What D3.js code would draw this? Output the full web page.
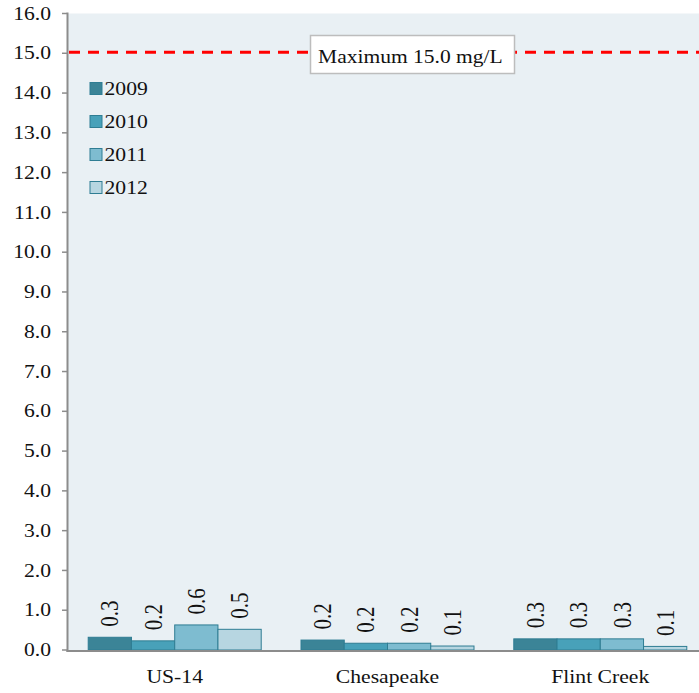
<!DOCTYPE html>
<html><head><meta charset="utf-8">
<script src="https://cdn.jsdelivr.net/npm/d3@7"></script>
<style>
html,body{margin:0;padding:0;background:#fff;}
svg{display:block;font-family:"Liberation Serif","Times New Roman",serif;}
</style></head>
<body><svg id="c" width="699" height="693"></svg>
<script>
const categories = ["US-14", "Chesapeake", "Flint Creek"];
const seriesNames = ["2009", "2010", "2011", "2012"];
const v2009 = [0.32, 0.25, 0.28];
const v2010 = [0.23, 0.17, 0.28];
const v2011 = [0.63, 0.17, 0.28];
const v2012 = [0.52, 0.10, 0.09];
const labels2009 = ["0.3", "0.2", "0.3"];
const labels2010 = ["0.2", "0.2", "0.3"];
const labels2011 = ["0.6", "0.2", "0.3"];
const labels2012 = ["0.5", "0.1", "0.1"];
const yTicks = [0,1,2,3,4,5,6,7,8,9,10,11,12,13,14,15,16];
const limitValue = 15.0;
const limitLabel = "Maximum 15.0 mg/L";

(function(){
const seriesValues = [v2009, v2010, v2011, v2012];
const seriesLabels = [labels2009, labels2010, labels2011, labels2012];
const colors = ["#3b8497", "#48a1b9", "#7ebcd0", "#b7d6e1"];
const strokeCol = "#2f7d93";
const S = 1.17; // horizontal text stretch

const svg = d3.select("#c");
const pL = 68, pR = 707, pT = 13.5, pB = 650;

const y = d3.scaleLinear().domain([0,16]).range([pB, pT]);
const x = d3.scaleBand().domain(categories).range([pL, pR]).paddingInner(0.187).paddingOuter(0.095);
const xs = d3.scaleBand().domain(seriesNames).range([0, x.bandwidth()]);

svg.append("rect").attr("x", pL).attr("y", pT).attr("width", 699 - pL).attr("height", pB - pT).attr("fill", "#e9f0f4");

const data = [];
categories.forEach((c, i) => seriesNames.forEach((s, j) => data.push({c, s, j, v: seriesValues[j][i], l: seriesLabels[j][i]})));

svg.append("g").selectAll("rect").data(data).join("rect")
  .attr("x", d => x(d.c) + xs(d.s))
  .attr("y", d => y(d.v))
  .attr("width", xs.bandwidth())
  .attr("height", d => y(0) - y(d.v))
  .attr("fill", d => colors[d.j])
  .attr("stroke", strokeCol).attr("stroke-width", 1);

svg.append("g").selectAll("text").data(data).join("text")
  .attr("transform", d => `translate(${x(d.c) + xs(d.s) + xs.bandwidth()/2},${y(d.v) - 10.5}) scale(${S},1) rotate(-90)`)
  .attr("dy", "0.35em")
  .attr("font-size", 21).attr("fill", "#111")
  .text(d => d.l);

const ya = svg.append("g");
ya.append("line").attr("x1", 67.5).attr("x2", 67.5).attr("y1", pT - 1).attr("y2", 652).attr("stroke", "#8c8c8c").attr("stroke-width", 2);
const yt = ya.selectAll("g.t").data(yTicks).join("g").attr("class","t").attr("transform", d => `translate(0,${y(d)})`);
yt.append("line").attr("x1", 62).attr("x2", 67).attr("stroke", "#8c8c8c").attr("stroke-width", 1.5);
yt.append("text").attr("transform", `translate(51,0) scale(${S},1)`).attr("text-anchor", "end").attr("dy", "0.33em")
  .attr("font-size", 18.5).attr("fill", "#111").text(d => d3.format(".1f")(d));

svg.append("line").attr("x1", 66.5).attr("x2", 699).attr("y1", 651).attr("y2", 651).attr("stroke", "#8c8c8c").attr("stroke-width", 2);
svg.append("g").selectAll("text").data(categories).join("text")
  .attr("transform", d => `translate(${x(d) + x.bandwidth()/2},683) scale(${S},1)`)
  .attr("text-anchor", "middle").attr("font-size", 18.5).attr("fill", "#111").text(d => d);

svg.append("line").attr("x1", pL + 1).attr("x2", 699).attr("y1", y(limitValue) - 1).attr("y2", y(limitValue) - 1)
  .attr("stroke", "#ff0000").attr("stroke-width", 3).attr("stroke-dasharray", "11,8");
svg.append("rect").attr("x", 310.5).attr("y", 35.5).attr("width", 204).attr("height", 38).attr("fill", "#fff").attr("stroke", "#bdbdbd").attr("stroke-width", 1.5);
svg.append("text").attr("transform", `translate(318,62.5) scale(${S},1)`).attr("font-size", 18.4).attr("fill", "#111").text(limitLabel);

const lg = svg.append("g").selectAll("g").data(seriesNames).join("g")
  .attr("transform", (d, i) => `translate(89.5,${88 + i * 33})`);
lg.append("rect").attr("x", 0.5).attr("y", -5.5).attr("width", 12).attr("height", 12)
  .attr("fill", (d, i) => colors[i]).attr("stroke", strokeCol).attr("stroke-width", 1);
lg.append("text").attr("transform", `translate(15,6.5) scale(1.14,1)`).attr("font-size", 19).attr("fill", "#111").text(d => d);
})();
</script></body></html>
